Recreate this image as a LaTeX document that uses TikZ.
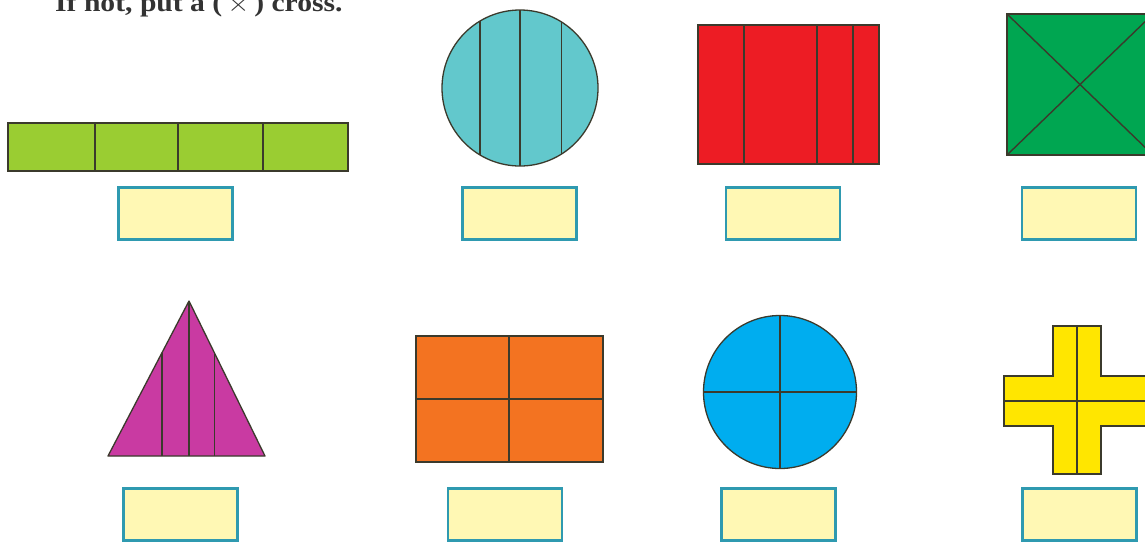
\documentclass[tikz,border=0pt]{standalone}
\usepackage{fontspec}
\setmainfont{Liberation Serif}
\usetikzlibrary{calc}
\definecolor{limefill}{HTML}{9ACD32}
\definecolor{tealfill}{HTML}{62C8CC}
\definecolor{redfill}{HTML}{ED1C24}
\definecolor{greenfill}{HTML}{00A651}
\definecolor{magentafill}{HTML}{C93AA2}
\definecolor{orangefill}{HTML}{F37321}
\definecolor{bluefill}{HTML}{00ADEF}
\definecolor{yellowfill}{HTML}{FFE600}
\definecolor{boxfill}{HTML}{FFF8B4}
\definecolor{boxline}{HTML}{2F9AB0}
\definecolor{edge}{HTML}{3B3A2C}
\definecolor{heading}{HTML}{333333}

\begin{document}
\begin{tikzpicture}[
  x=1pt, y=-1pt,
  figure/.style={draw=edge, line width=1.3pt, inner sep=0pt, outer sep=0pt},
  divider/.style={draw=edge, line width=1.4pt},
  answer/.style={draw=boxline, fill=boxfill, line width=2.2pt, inner sep=0pt,
                 minimum width=114pt, minimum height=52pt},
  headline/.style={font=\fontsize{26}{30}\selectfont\bfseries, text=heading,
                inner sep=0pt, anchor=base west}
]
\clip (0,0) rectangle (1145,542);
\fill[white] (0,0) rectangle (1145,542);
\node[headline] (head) at (55,11.5) {\scalebox{1.14}[1]{If not, put a (\,$\times$\,) cross.}};

% top row
\node[figure, rectangle, fill=limefill, minimum width=340pt, minimum height=48pt] (strip) at (178,147) {};
\foreach \dx in {87,170,255}
  \draw[divider] ([xshift=\dx]strip.north west) -- ([xshift=\dx]strip.south west);

\node[figure, circle, fill=tealfill, minimum size=156pt] (tealdisk) at (520,88) {};
\draw[divider] (tealdisk.121) -- (tealdisk.-121);
\draw[divider] (tealdisk.north) -- (tealdisk.south);
\draw[divider] (tealdisk.58) -- (tealdisk.-58);

\node[figure, rectangle, fill=redfill, minimum width=181pt, minimum height=139pt] (redrect) at (788.5,94.5) {};
\foreach \dx in {46,119,155}
  \draw[divider] ([xshift=\dx]redrect.north west) -- ([xshift=\dx]redrect.south west);

\node[figure, rectangle, fill=greenfill, minimum width=146pt, minimum height=141pt] (greensq) at (1080,84.5) {};
\draw[divider] (greensq.north west) -- (greensq.south east);
\draw[divider] (greensq.north east) -- (greensq.south west);

\node[answer] (ans1) at (175.5,213.5) {};
\node[answer] (ans2) at (519.5,213.5) {};
\node[answer] (ans3) at (783,213.5) {};
\node[answer] (ans4) at (1079,213.5) {};

% bottom row
\coordinate (apex) at (189,301);
\coordinate (baseleft) at (108,456);
\coordinate (baseright) at (265,456);
\coordinate (leftcut) at ($(apex)!1/3!(baseleft)$);
\coordinate (rightcut) at ($(apex)!1/3!(baseright)$);
\fill[magentafill] (apex) -- (baseright) -- (baseleft) -- cycle;
\draw[divider] (leftcut) -- (leftcut |- baseleft);
\draw[divider] (apex) -- (apex |- baseleft);
\draw[divider] (rightcut) -- (rightcut |- baseright);
\draw[figure, line join=round] (apex) -- (baseright) -- (baseleft) -- cycle;

\node[figure, rectangle, fill=orangefill, minimum width=187pt, minimum height=126pt] (orangerect) at (509.5,399) {};
\draw[divider] ([xshift=93]orangerect.north west) -- ([xshift=93]orangerect.south west);
\draw[divider] (orangerect.west) -- (orangerect.east);

\node[figure, circle, fill=bluefill, minimum size=153pt] (bluedisk) at (780,392) {};
\draw[divider] (bluedisk.north) -- (bluedisk.south);
\draw[divider] (bluedisk.west) -- (bluedisk.east);

\coordinate (plusmid) at (1077,401);
\draw[figure, fill=yellowfill]
  (1053,326) -- (1101,326) -- (1101,376) -- (1150,376) -- (1150,426)
  -- (1101,426) -- (1101,474) -- (1053,474) -- (1053,426) -- (1004,426)
  -- (1004,376) -- (1053,376) -- cycle;
\draw[divider] (plusmid |- 0,326) -- (plusmid |- 0,474);
\draw[divider] (plusmid -| 1004,0) -- (plusmid -| 1150,0);

\node[answer] (ans5) at (180.5,514.5) {};
\node[answer] (ans6) at (505,514.5) {};
\node[answer] (ans7) at (778.5,514.5) {};
\node[answer] (ans8) at (1079.5,514.5) {};
\end{tikzpicture}
\end{document}
